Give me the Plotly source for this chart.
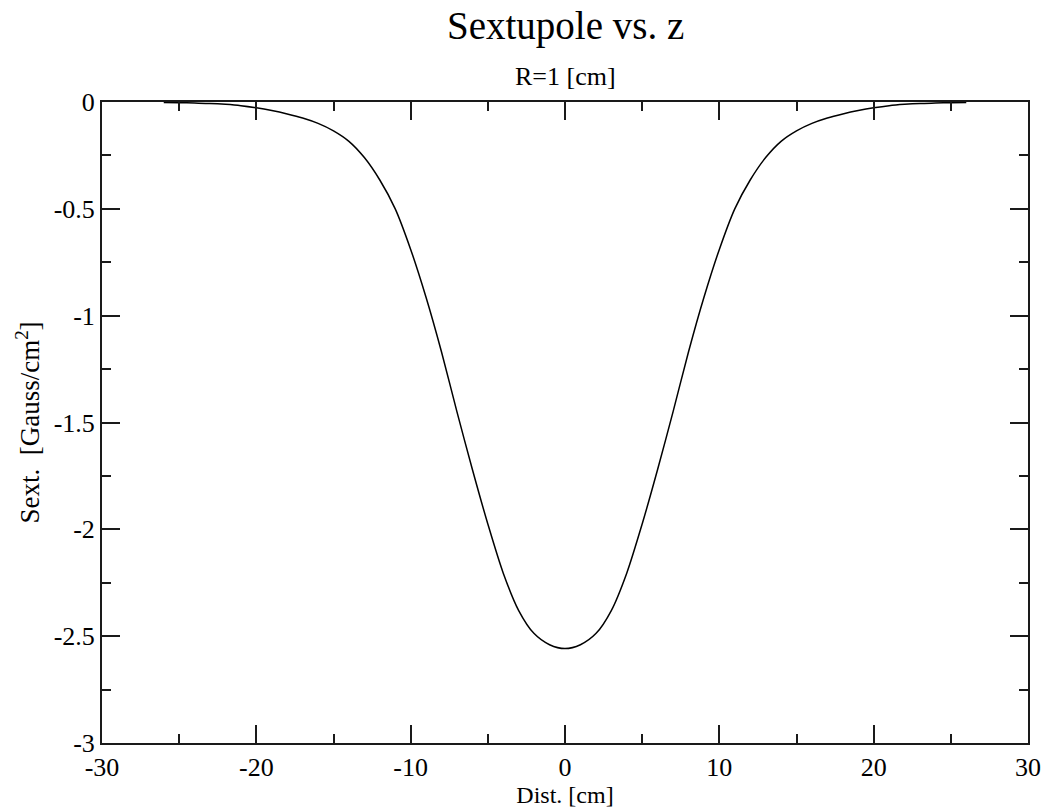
import plotly.graph_objects as go

# Data
dist_cm = [-26, -25, -24, -23, -22, -21, -20, -19, -18, -17, -16, -15, -14, -13, -12,
           -11, -10, -9, -8, -7, -6, -5, -4, -3, -2, -1, 0,
           1, 2, 3, 4, 5, 6, 7, 8, 9, 10, 11, 12, 13, 14, 15, 16, 17, 18, 19, 20,
           21, 22, 23, 24, 25, 26]
sext = [-0.002, -0.003, -0.005, -0.007, -0.011, -0.017, -0.027, -0.040, -0.056, -0.075,
        -0.100, -0.135, -0.184, -0.260, -0.365, -0.500, -0.690, -0.915, -1.170,
        -1.450, -1.720, -1.975, -2.205, -2.380, -2.488, -2.540, -2.558,
        -2.540, -2.488, -2.380, -2.205, -1.975, -1.720, -1.450, -1.170, -0.915,
        -0.690, -0.500, -0.365, -0.260, -0.184, -0.135, -0.100, -0.075, -0.056,
        -0.040, -0.027, -0.017, -0.011, -0.007, -0.005, -0.003, -0.002]

x_ticks = [-30, -20, -10, 0, 10, 20, 30]
y_ticks = [-3, -2.5, -2, -1.5, -1, -0.5, 0]

FONT = "Liberation Serif"
AX = "#1a1a1a"

fig = go.Figure()
fig.add_trace(go.Scatter(x=dist_cm, y=sext, mode="lines",
                         line=dict(color="black", width=1.5, shape="spline", smoothing=0.8),
                         showlegend=False, hoverinfo="skip"))

axis_common = dict(
    showgrid=False, zeroline=False, showline=True, linecolor=AX, linewidth=2,
    mirror="allticks", ticks="inside", ticklen=18, tickwidth=2, tickcolor=AX,
    tickfont=dict(family=FONT, size=26, color="black"),
)

fig.update_xaxes(range=[-30, 30], tickvals=x_ticks, ticktext=[str(v) for v in x_ticks],
                 minor=dict(ticks="inside", ticklen=9, tickwidth=2, tickcolor=AX, dtick=5, showgrid=False),
                 title=dict(text="Dist. [cm]", font=dict(family=FONT, size=24, color="black"), standoff=0),
                 **axis_common)
fig.update_yaxes(range=[-3, 0], tickvals=y_ticks, ticktext=[f"{v:g}" for v in y_ticks],
                 minor=dict(ticks="inside", ticklen=9, tickwidth=2, tickcolor=AX, dtick=0.25, showgrid=False),
                 title=dict(text="Sext.  [Gauss/cm<sup>2</sup>]", font=dict(family=FONT, size=27, color="black"), standoff=6),
                 **axis_common)

fig.add_annotation(text="Sextupole vs. z", xref="paper", yref="paper", x=0.5, y=1,
                   yanchor="bottom", yshift=52, showarrow=False,
                   font=dict(family=FONT, size=39, color="black"))
fig.add_annotation(text="R=1 [cm]", xref="paper", yref="paper", x=0.5, y=1,
                   yanchor="bottom", yshift=9, showarrow=False,
                   font=dict(family=FONT, size=26, color="black"))

fig.update_layout(
    width=1055, height=811,
    margin=dict(l=102, r=27, t=102, b=63),
    paper_bgcolor="white", plot_bgcolor="white",
    font=dict(family=FONT, color="black"),
)

fig.write_html("out.html")
